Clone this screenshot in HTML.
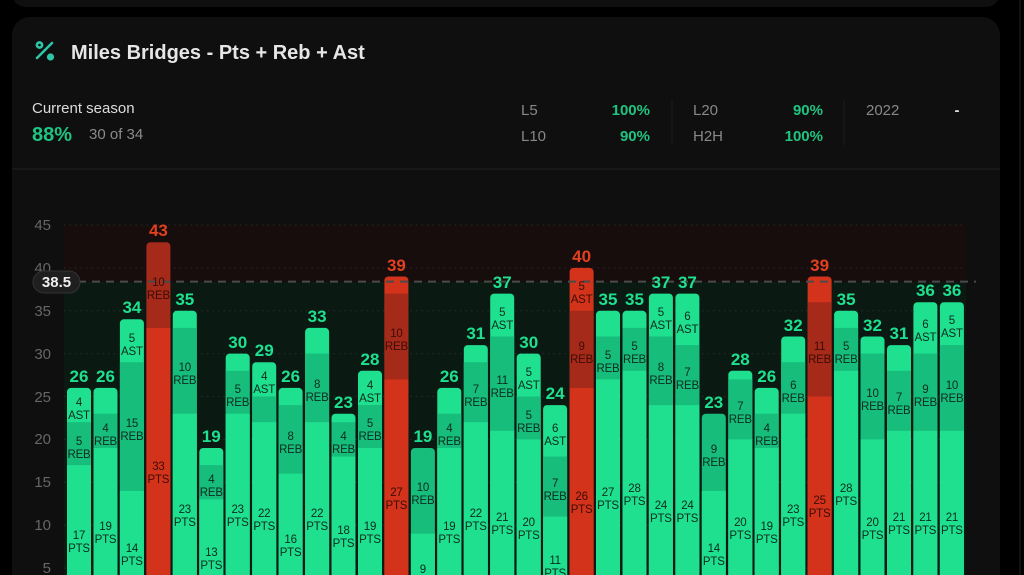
<!DOCTYPE html>
<html><head><meta charset="utf-8"><style>
html,body{margin:0;padding:0;background:#000;width:1024px;height:575px;overflow:hidden;font-family:"Liberation Sans",sans-serif}
svg{display:block;overflow:hidden}
.g{fill:#1ee08f}.gr{fill:#17bd7b}.r{fill:#d2331a}.rr{fill:#a52a19}
.s{font-size:11.5px;fill:#0d2b1e;text-anchor:middle;letter-spacing:-0.2px}
.sr{font-size:11.5px;fill:#3d0c05;text-anchor:middle;letter-spacing:-0.2px}
.t{font-size:17px;font-weight:bold;fill:#1ee08f;text-anchor:middle}
.tr{font-size:17px;font-weight:bold;fill:#e2401f;text-anchor:middle}
.ax{font-size:15px;fill:#666;text-anchor:end}
</style></head><body>
<svg width="1024" height="575" viewBox="0 0 1024 575" xmlns="http://www.w3.org/2000/svg">
<rect x="0" y="0" width="1024" height="575" fill="#000"/>
<rect x="12" y="-30" width="988" height="37" rx="14" fill="#0f0f0f"/>
<line x1="1020" y1="0" x2="1020" y2="575" stroke="#111" stroke-width="2"/>
<rect x="12" y="17" width="988" height="600" rx="18" fill="#0f0f0f"/>
<g stroke="#2cc7a8" stroke-width="2.6" stroke-linecap="round" fill="none"><line x1="37" y1="58" x2="52" y2="43"/><circle cx="39.5" cy="45" r="2.6"/></g>
<circle cx="50.5" cy="57" r="3.6" fill="#2cc7a8"/>
<text x="71" y="59" font-size="20" font-weight="bold" fill="#e6e6e6">Miles Bridges - Pts + Reb + Ast</text>
<text x="32" y="113" font-size="15" fill="#dcdcdc">Current season</text>
<text x="32" y="141" font-size="20" font-weight="bold" fill="#1fc481">88%</text>
<text x="89" y="139" font-size="15" fill="#8a8a8a">30 of 34</text>
<g font-size="15">
<text x="521" y="115" fill="#888">L5</text><text x="650" y="115" fill="#1fc481" font-weight="bold" text-anchor="end">100%</text>
<text x="521" y="141" fill="#888">L10</text><text x="650" y="141" fill="#1fc481" font-weight="bold" text-anchor="end">90%</text>
<text x="693" y="115" fill="#888">L20</text><text x="823" y="115" fill="#1fc481" font-weight="bold" text-anchor="end">90%</text>
<text x="693" y="141" fill="#888">H2H</text><text x="823" y="141" fill="#1fc481" font-weight="bold" text-anchor="end">100%</text>
<text x="866" y="115" fill="#888">2022</text><text x="957" y="115" fill="#ddd" font-weight="bold" text-anchor="middle">-</text>
</g>
<line x1="672" y1="100" x2="672" y2="145" stroke="#1e1e1e"/>
<line x1="844" y1="100" x2="844" y2="145" stroke="#1e1e1e"/>
<line x1="12" y1="169" x2="1000" y2="169" stroke="#1b1b1b" stroke-width="1.5"/>
<rect x="64" y="225" width="902" height="57" fill="#170d0c"/>
<rect x="64" y="282" width="902" height="300" fill="#0a1a13"/>
<g stroke="#2a2a2a" stroke-width="1" stroke-dasharray="1.5,4">
<line x1="64" y1="225" x2="966" y2="225"/><line x1="64" y1="267.9" x2="966" y2="267.9"/><line x1="64" y1="310.8" x2="966" y2="310.8"/><line x1="64" y1="353.6" x2="966" y2="353.6"/><line x1="64" y1="396.5" x2="966" y2="396.5"/><line x1="64" y1="439.4" x2="966" y2="439.4"/><line x1="64" y1="482.3" x2="966" y2="482.3"/><line x1="64" y1="525.2" x2="966" y2="525.2"/><line x1="64" y1="568" x2="966" y2="568"/>
</g>
<g>
<text x="51" y="230" class="ax">45</text><text x="51" y="273" class="ax">40</text><text x="51" y="316" class="ax">35</text><text x="51" y="359" class="ax">30</text><text x="51" y="402" class="ax">25</text><text x="51" y="444" class="ax">20</text><text x="51" y="487" class="ax">15</text><text x="51" y="530" class="ax">10</text><text x="51" y="573" class="ax">5</text>
</g>
<g>
<rect x="67" y="387.9" width="24" height="230" rx="4" class="g"/><rect x="67" y="422.2" width="24" height="200" class="gr"/><rect x="67" y="465.1" width="24" height="160" class="g"/>
<rect x="93.5" y="387.9" width="24" height="230" rx="4" class="g"/><rect x="93.5" y="413.7" width="24" height="200" class="gr"/><rect x="93.5" y="448" width="24" height="170" class="g"/>
<rect x="119.9" y="319.3" width="24" height="300" rx="4" class="g"/><rect x="119.9" y="362.2" width="24" height="260" class="gr"/><rect x="119.9" y="490.9" width="24" height="130" class="g"/>
<rect x="146.4" y="242.2" width="24" height="380" rx="4" class="rr"/><rect x="146.4" y="327.9" width="24" height="290" class="r"/>
<rect x="172.8" y="310.8" width="24" height="310" rx="4" class="g"/><rect x="172.8" y="327.9" width="24" height="290" class="gr"/><rect x="172.8" y="413.7" width="24" height="200" class="g"/>
<rect x="199.3" y="448" width="24" height="170" rx="4" class="g"/><rect x="199.3" y="465.1" width="24" height="150" class="gr"/><rect x="199.3" y="499.4" width="24" height="120" class="g"/>
<rect x="225.7" y="353.6" width="24" height="260" rx="4" class="g"/><rect x="225.7" y="370.8" width="24" height="250" class="gr"/><rect x="225.7" y="413.7" width="24" height="200" class="g"/>
<rect x="252.2" y="362.2" width="24" height="260" rx="4" class="g"/><rect x="252.2" y="396.5" width="24" height="220" class="gr"/><rect x="252.2" y="422.2" width="24" height="200" class="g"/>
<rect x="278.6" y="387.9" width="24" height="230" rx="4" class="g"/><rect x="278.6" y="405.1" width="24" height="210" class="gr"/><rect x="278.6" y="473.7" width="24" height="140" class="g"/>
<rect x="305.1" y="327.9" width="24" height="290" rx="4" class="g"/><rect x="305.1" y="353.6" width="24" height="260" class="gr"/><rect x="305.1" y="422.2" width="24" height="200" class="g"/>
<rect x="331.5" y="413.7" width="24" height="200" rx="4" class="g"/><rect x="331.5" y="422.2" width="24" height="200" class="gr"/><rect x="331.5" y="456.6" width="24" height="160" class="g"/>
<rect x="358" y="370.8" width="24" height="250" rx="4" class="g"/><rect x="358" y="405.1" width="24" height="210" class="gr"/><rect x="358" y="448" width="24" height="170" class="g"/>
<rect x="384.4" y="276.5" width="24" height="340" rx="4" class="r"/><rect x="384.4" y="293.6" width="24" height="320" class="rr"/><rect x="384.4" y="379.4" width="24" height="240" class="r"/>
<rect x="410.9" y="448" width="24" height="170" rx="4" class="gr"/><rect x="410.9" y="533.7" width="24" height="80" class="g"/>
<rect x="437.3" y="387.9" width="24" height="230" rx="4" class="g"/><rect x="437.3" y="413.7" width="24" height="200" class="gr"/><rect x="437.3" y="448" width="24" height="170" class="g"/>
<rect x="463.8" y="345.1" width="24" height="270" rx="4" class="g"/><rect x="463.8" y="362.2" width="24" height="260" class="gr"/><rect x="463.8" y="422.2" width="24" height="200" class="g"/>
<rect x="490.2" y="293.6" width="24" height="320" rx="4" class="g"/><rect x="490.2" y="336.5" width="24" height="280" class="gr"/><rect x="490.2" y="430.8" width="24" height="190" class="g"/>
<rect x="516.7" y="353.6" width="24" height="260" rx="4" class="g"/><rect x="516.7" y="396.5" width="24" height="220" class="gr"/><rect x="516.7" y="439.4" width="24" height="180" class="g"/>
<rect x="543.1" y="405.1" width="24" height="210" rx="4" class="g"/><rect x="543.1" y="456.6" width="24" height="160" class="gr"/><rect x="543.1" y="516.6" width="24" height="100" class="g"/>
<rect x="569.6" y="267.9" width="24" height="350" rx="4" class="r"/><rect x="569.6" y="310.8" width="24" height="310" class="rr"/><rect x="569.6" y="387.9" width="24" height="230" class="r"/>
<rect x="596" y="310.8" width="24" height="310" rx="4" class="g"/><rect x="596" y="336.5" width="24" height="280" class="gr"/><rect x="596" y="379.4" width="24" height="240" class="g"/>
<rect x="622.5" y="310.8" width="24" height="310" rx="4" class="g"/><rect x="622.5" y="327.9" width="24" height="290" class="gr"/><rect x="622.5" y="370.8" width="24" height="250" class="g"/>
<rect x="648.9" y="293.6" width="24" height="320" rx="4" class="g"/><rect x="648.9" y="336.5" width="24" height="280" class="gr"/><rect x="648.9" y="405.1" width="24" height="210" class="g"/>
<rect x="675.4" y="293.6" width="24" height="320" rx="4" class="g"/><rect x="675.4" y="345.1" width="24" height="270" class="gr"/><rect x="675.4" y="405.1" width="24" height="210" class="g"/>
<rect x="701.8" y="413.7" width="24" height="200" rx="4" class="gr"/><rect x="701.8" y="490.9" width="24" height="130" class="g"/>
<rect x="728.3" y="370.8" width="24" height="250" rx="4" class="g"/><rect x="728.3" y="379.4" width="24" height="240" class="gr"/><rect x="728.3" y="439.4" width="24" height="180" class="g"/>
<rect x="754.7" y="387.9" width="24" height="230" rx="4" class="g"/><rect x="754.7" y="413.7" width="24" height="200" class="gr"/><rect x="754.7" y="448" width="24" height="170" class="g"/>
<rect x="781.2" y="336.5" width="24" height="280" rx="4" class="g"/><rect x="781.2" y="362.2" width="24" height="260" class="gr"/><rect x="781.2" y="413.7" width="24" height="200" class="g"/>
<rect x="807.6" y="276.5" width="24" height="340" rx="4" class="r"/><rect x="807.6" y="302.2" width="24" height="320" class="rr"/><rect x="807.6" y="396.5" width="24" height="220" class="r"/>
<rect x="834.1" y="310.8" width="24" height="310" rx="4" class="g"/><rect x="834.1" y="327.9" width="24" height="290" class="gr"/><rect x="834.1" y="370.8" width="24" height="250" class="g"/>
<rect x="860.5" y="336.5" width="24" height="280" rx="4" class="g"/><rect x="860.5" y="353.6" width="24" height="260" class="gr"/><rect x="860.5" y="439.4" width="24" height="180" class="g"/>
<rect x="887" y="345.1" width="24" height="270" rx="4" class="g"/><rect x="887" y="370.8" width="24" height="250" class="gr"/><rect x="887" y="430.8" width="24" height="190" class="g"/>
<rect x="913.4" y="302.2" width="24" height="320" rx="4" class="g"/><rect x="913.4" y="353.6" width="24" height="260" class="gr"/><rect x="913.4" y="430.8" width="24" height="190" class="g"/>
<rect x="939.9" y="302.2" width="24" height="320" rx="4" class="g"/><rect x="939.9" y="345.1" width="24" height="270" class="gr"/><rect x="939.9" y="430.8" width="24" height="190" class="g"/>
</g>
<line x1="64" y1="281.6" x2="976" y2="281.6" stroke="#4a4a4a" stroke-width="2" stroke-dasharray="8,6"/>
<rect x="33" y="271" width="47" height="22" rx="11" fill="#1f1f1f" stroke="#333"/>
<text x="56.5" y="287" font-size="15" font-weight="bold" fill="#f0f0f0" text-anchor="middle">38.5</text>
<text x="79" y="382" class="t">26</text><text x="105.5" y="382" class="t">26</text><text x="131.9" y="313" class="t">34</text><text x="158.4" y="236" class="tr">43</text><text x="184.8" y="305" class="t">35</text><text x="211.3" y="442" class="t">19</text><text x="237.7" y="348" class="t">30</text><text x="264.2" y="356" class="t">29</text><text x="290.6" y="382" class="t">26</text><text x="317.1" y="322" class="t">33</text><text x="343.5" y="408" class="t">23</text><text x="370" y="365" class="t">28</text><text x="396.4" y="271" class="tr">39</text><text x="422.9" y="442" class="t">19</text><text x="449.3" y="382" class="t">26</text><text x="475.8" y="339" class="t">31</text><text x="502.2" y="288" class="t">37</text><text x="528.7" y="348" class="t">30</text><text x="555.1" y="399" class="t">24</text><text x="581.6" y="262" class="tr">40</text><text x="608" y="305" class="t">35</text><text x="634.5" y="305" class="t">35</text><text x="660.9" y="288" class="t">37</text><text x="687.4" y="288" class="t">37</text><text x="713.8" y="408" class="t">23</text><text x="740.3" y="365" class="t">28</text><text x="766.7" y="382" class="t">26</text><text x="793.2" y="331" class="t">32</text><text x="819.6" y="271" class="tr">39</text><text x="846.1" y="305" class="t">35</text><text x="872.5" y="331" class="t">32</text><text x="899" y="339" class="t">31</text><text x="925.4" y="296" class="t">36</text><text x="951.9" y="296" class="t">36</text>
<g>
<text x="79" y="539" class="s">17</text><text x="79" y="552" class="s">PTS</text><text x="79" y="445" class="s">5</text><text x="79" y="458" class="s">REB</text><text x="79" y="406" class="s">4</text><text x="79" y="419" class="s">AST</text>
<text x="105.5" y="530" class="s">19</text><text x="105.5" y="543" class="s">PTS</text><text x="105.5" y="432" class="s">4</text><text x="105.5" y="445" class="s">REB</text>
<text x="131.9" y="552" class="s">14</text><text x="131.9" y="565" class="s">PTS</text><text x="131.9" y="427" class="s">15</text><text x="131.9" y="440" class="s">REB</text><text x="131.9" y="342" class="s">5</text><text x="131.9" y="355" class="s">AST</text>
<text x="158.4" y="470" class="sr">33</text><text x="158.4" y="483" class="sr">PTS</text><text x="158.4" y="286" class="sr">10</text><text x="158.4" y="299" class="sr">REB</text>
<text x="184.8" y="513" class="s">23</text><text x="184.8" y="526" class="s">PTS</text><text x="184.8" y="371" class="s">10</text><text x="184.8" y="384" class="s">REB</text>
<text x="211.3" y="556" class="s">13</text><text x="211.3" y="569" class="s">PTS</text><text x="211.3" y="483" class="s">4</text><text x="211.3" y="496" class="s">REB</text>
<text x="237.7" y="513" class="s">23</text><text x="237.7" y="526" class="s">PTS</text><text x="237.7" y="393" class="s">5</text><text x="237.7" y="406" class="s">REB</text>
<text x="264.2" y="517" class="s">22</text><text x="264.2" y="530" class="s">PTS</text><text x="264.2" y="380" class="s">4</text><text x="264.2" y="393" class="s">AST</text>
<text x="290.6" y="543" class="s">16</text><text x="290.6" y="556" class="s">PTS</text><text x="290.6" y="440" class="s">8</text><text x="290.6" y="453" class="s">REB</text>
<text x="317.1" y="517" class="s">22</text><text x="317.1" y="530" class="s">PTS</text><text x="317.1" y="388" class="s">8</text><text x="317.1" y="401" class="s">REB</text>
<text x="343.5" y="534" class="s">18</text><text x="343.5" y="547" class="s">PTS</text><text x="343.5" y="440" class="s">4</text><text x="343.5" y="453" class="s">REB</text>
<text x="370" y="530" class="s">19</text><text x="370" y="543" class="s">PTS</text><text x="370" y="427" class="s">5</text><text x="370" y="440" class="s">REB</text><text x="370" y="389" class="s">4</text><text x="370" y="402" class="s">AST</text>
<text x="396.4" y="496" class="sr">27</text><text x="396.4" y="509" class="sr">PTS</text><text x="396.4" y="337" class="sr">10</text><text x="396.4" y="350" class="sr">REB</text>
<text x="422.9" y="573" class="s">9</text><text x="422.9" y="491" class="s">10</text><text x="422.9" y="504" class="s">REB</text>
<text x="449.3" y="530" class="s">19</text><text x="449.3" y="543" class="s">PTS</text><text x="449.3" y="432" class="s">4</text><text x="449.3" y="445" class="s">REB</text>
<text x="475.8" y="517" class="s">22</text><text x="475.8" y="530" class="s">PTS</text><text x="475.8" y="393" class="s">7</text><text x="475.8" y="406" class="s">REB</text>
<text x="502.2" y="521" class="s">21</text><text x="502.2" y="534" class="s">PTS</text><text x="502.2" y="384" class="s">11</text><text x="502.2" y="397" class="s">REB</text><text x="502.2" y="316" class="s">5</text><text x="502.2" y="329" class="s">AST</text>
<text x="528.7" y="526" class="s">20</text><text x="528.7" y="539" class="s">PTS</text><text x="528.7" y="419" class="s">5</text><text x="528.7" y="432" class="s">REB</text><text x="528.7" y="376" class="s">5</text><text x="528.7" y="389" class="s">AST</text>
<text x="555.1" y="564" class="s">11</text><text x="555.1" y="577" class="s">PTS</text><text x="555.1" y="487" class="s">7</text><text x="555.1" y="500" class="s">REB</text><text x="555.1" y="432" class="s">6</text><text x="555.1" y="445" class="s">AST</text>
<text x="581.6" y="500" class="sr">26</text><text x="581.6" y="513" class="sr">PTS</text><text x="581.6" y="350" class="sr">9</text><text x="581.6" y="363" class="sr">REB</text><text x="581.6" y="290" class="sr">5</text><text x="581.6" y="303" class="sr">AST</text>
<text x="608" y="496" class="s">27</text><text x="608" y="509" class="s">PTS</text><text x="608" y="359" class="s">5</text><text x="608" y="372" class="s">REB</text>
<text x="634.5" y="492" class="s">28</text><text x="634.5" y="505" class="s">PTS</text><text x="634.5" y="350" class="s">5</text><text x="634.5" y="363" class="s">REB</text>
<text x="660.9" y="509" class="s">24</text><text x="660.9" y="522" class="s">PTS</text><text x="660.9" y="371" class="s">8</text><text x="660.9" y="384" class="s">REB</text><text x="660.9" y="316" class="s">5</text><text x="660.9" y="329" class="s">AST</text>
<text x="687.4" y="509" class="s">24</text><text x="687.4" y="522" class="s">PTS</text><text x="687.4" y="376" class="s">7</text><text x="687.4" y="389" class="s">REB</text><text x="687.4" y="320" class="s">6</text><text x="687.4" y="333" class="s">AST</text>
<text x="713.8" y="552" class="s">14</text><text x="713.8" y="565" class="s">PTS</text><text x="713.8" y="453" class="s">9</text><text x="713.8" y="466" class="s">REB</text>
<text x="740.3" y="526" class="s">20</text><text x="740.3" y="539" class="s">PTS</text><text x="740.3" y="410" class="s">7</text><text x="740.3" y="423" class="s">REB</text>
<text x="766.7" y="530" class="s">19</text><text x="766.7" y="543" class="s">PTS</text><text x="766.7" y="432" class="s">4</text><text x="766.7" y="445" class="s">REB</text>
<text x="793.2" y="513" class="s">23</text><text x="793.2" y="526" class="s">PTS</text><text x="793.2" y="389" class="s">6</text><text x="793.2" y="402" class="s">REB</text>
<text x="819.6" y="504" class="sr">25</text><text x="819.6" y="517" class="sr">PTS</text><text x="819.6" y="350" class="sr">11</text><text x="819.6" y="363" class="sr">REB</text>
<text x="846.1" y="492" class="s">28</text><text x="846.1" y="505" class="s">PTS</text><text x="846.1" y="350" class="s">5</text><text x="846.1" y="363" class="s">REB</text>
<text x="872.5" y="526" class="s">20</text><text x="872.5" y="539" class="s">PTS</text><text x="872.5" y="397" class="s">10</text><text x="872.5" y="410" class="s">REB</text>
<text x="899" y="521" class="s">21</text><text x="899" y="534" class="s">PTS</text><text x="899" y="401" class="s">7</text><text x="899" y="414" class="s">REB</text>
<text x="925.4" y="521" class="s">21</text><text x="925.4" y="534" class="s">PTS</text><text x="925.4" y="393" class="s">9</text><text x="925.4" y="406" class="s">REB</text><text x="925.4" y="328" class="s">6</text><text x="925.4" y="341" class="s">AST</text>
<text x="951.9" y="521" class="s">21</text><text x="951.9" y="534" class="s">PTS</text><text x="951.9" y="389" class="s">10</text><text x="951.9" y="402" class="s">REB</text><text x="951.9" y="324" class="s">5</text><text x="951.9" y="337" class="s">AST</text>
</g>
</svg>
</body></html>
